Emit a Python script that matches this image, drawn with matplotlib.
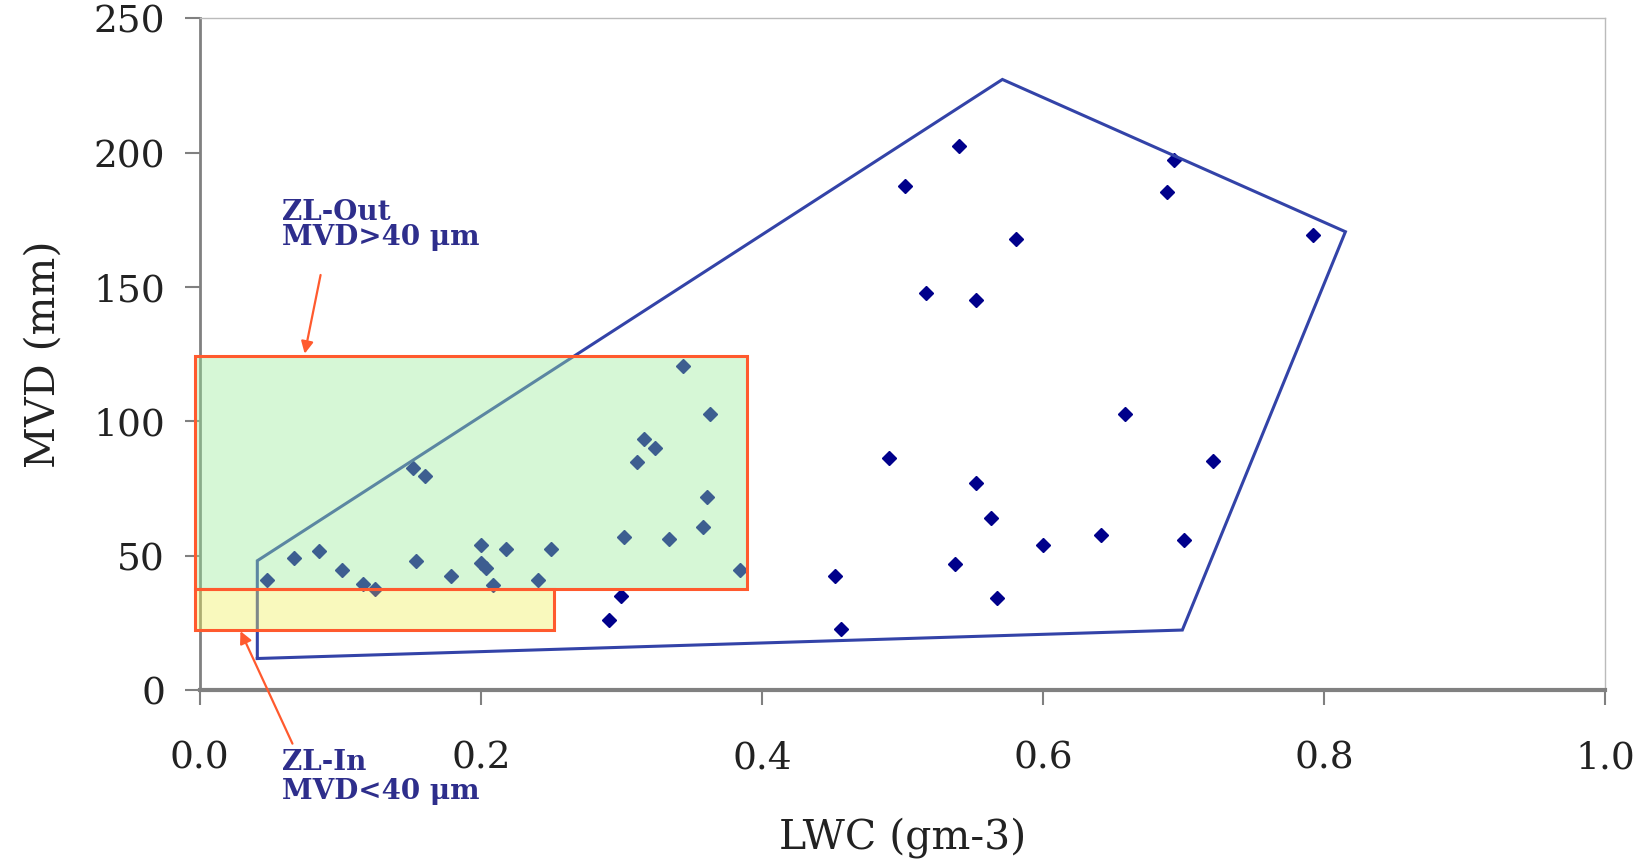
import matplotlib
matplotlib.use("Agg")
import matplotlib.pyplot as plt
from matplotlib.patches import Rectangle

# ---- data ----
lwc = [0.540, 0.502, 0.693, 0.688, 0.581, 0.792, 0.517, 0.552, 0.658, 0.490,
       0.721, 0.552, 0.563, 0.600, 0.641, 0.700, 0.537, 0.452, 0.567, 0.456,
       0.300, 0.291,
       0.344, 0.363, 0.316, 0.324, 0.311, 0.152, 0.160, 0.361, 0.358, 0.302,
       0.334, 0.200, 0.218, 0.250, 0.085, 0.067, 0.154, 0.200, 0.204, 0.101,
       0.384, 0.179, 0.241, 0.048, 0.116, 0.209, 0.125]
mvd = [202.6, 187.8, 197.2, 185.4, 167.8, 169.4, 147.9, 145.1, 102.9, 86.5,
       85.3, 77.1, 64.2, 54.0, 57.5, 55.9, 46.9, 42.6, 34.4, 22.7,
       34.8, 26.2,
       120.5, 102.9, 93.5, 90.0, 84.9, 82.5, 79.8, 72.0, 60.6, 57.1,
       56.3, 54.0, 52.4, 52.4, 51.6, 49.3, 48.1, 47.3, 45.4, 44.6,
       44.6, 42.3, 41.1, 41.1, 39.5, 39.1, 37.6]

envelope_lwc = [0.041, 0.041, 0.571, 0.815, 0.699, 0.041]
envelope_mvd = [11.7, 48.1, 227.3, 170.6, 22.3, 11.7]

# ZL-Out region (x0, x1, y0, y1) and ZL-In region
zl_out = [-0.003, 0.389, 37.6, 124.4]
zl_in = [-0.003, 0.252, 22.3, 37.6]

x_ticks = [0.0, 0.2, 0.4, 0.6, 0.8, 1.0]
y_ticks = [0, 50, 100, 150, 200, 250]

# ---- figure ----
plt.rcParams['font.family'] = ['DejaVu Serif']
fig = plt.figure(figsize=(16.475, 8.625), dpi=100)
ax = fig.add_axes([0.1212, 0.1995, 0.9745 - 0.1212, 0.978 - 0.1995])

ax.plot(lwc, mvd, linestyle='none', marker='D', markersize=7,
        color='#00008B', zorder=2)
ax.plot(envelope_lwc, envelope_mvd, color='#3343A8', linewidth=2.2,
        zorder=2, solid_joinstyle='miter')

edge = '#FF5A2E'
for (x0, x1, y0, y1), fc in ((zl_out, (0.60, 0.93, 0.60, 0.40)),
                             (zl_in, (0.95, 0.95, 0.36, 0.40))):
    ax.add_patch(Rectangle((x0, y0), x1 - x0, y1 - y0, facecolor=fc,
                           edgecolor=edge, linewidth=2.2, zorder=3,
                           clip_on=False))

txt_color = '#2E2E8C'
tkw = dict(ha='left', va='baseline', fontsize=20, fontweight='bold',
           color=txt_color, clip_on=False)
ax.text(0.0586, 175.1, 'ZL-Out', **tkw)
ax.text(0.0586, 165.8, 'MVD>40 μm', **tkw)
ax.text(0.0586, -29.8, 'ZL-In', **tkw)
ax.text(0.0586, -40.6, 'MVD<40 μm', **tkw)

akw = dict(arrowstyle='-|>', color=edge, lw=1.6, mutation_scale=18,
           shrinkA=0, shrinkB=0)
ax.annotate('', xy=(0.0747, 125.2), xytext=(0.086, 154.5),
            annotation_clip=False, arrowprops=akw)
ax.annotate('', xy=(0.029, 21.9), xytext=(0.066, -20.0),
            annotation_clip=False, arrowprops=akw)

ax.set_xlim(0, 1.0)
ax.set_ylim(0, 250)
ax.set_xticks(x_ticks)
ax.set_xticklabels([f'{v:.1f}' for v in x_ticks])
ax.set_yticks(y_ticks)
ax.set_yticklabels([str(v) for v in y_ticks])

ax.tick_params(axis='both', direction='out', length=11, width=1.5,
               colors='#808080', labelcolor='#222222', labelsize=27)
ax.tick_params(axis='x', pad=25)
ax.tick_params(axis='y', pad=14)

ax.set_xlabel('LWC (gm-3)', fontsize=29.5, color='#222222', labelpad=29)
ax.set_ylabel('MVD (mm)', fontsize=29.5, color='#222222', labelpad=21)

for side in ('top', 'right'):
    ax.spines[side].set_color('#BBBBBB')
    ax.spines[side].set_linewidth(1.0)
ax.spines['left'].set_color('#808080')
ax.spines['left'].set_linewidth(2.0)
ax.spines['bottom'].set_color('#808080')
ax.spines['bottom'].set_linewidth(3.0)

fig.savefig('out.png', dpi=100)
